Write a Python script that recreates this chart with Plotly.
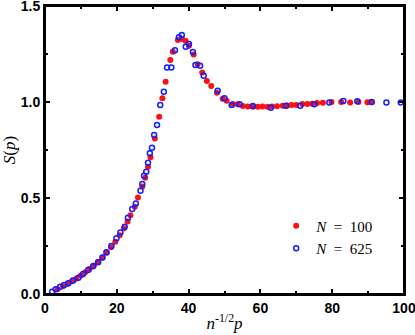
import plotly.graph_objects as go

# N = 100 (red filled)
x_n100 = [3.5, 5.0, 6.3, 7.5, 8.7, 10.0, 11.2, 12.4, 13.6, 14.8, 16.0, 17.2, 18.4, 19.6,
          20.8, 22.0, 23.0, 23.8, 25.0, 25.9, 27.1, 27.9, 28.7, 29.4, 30.6, 31.8, 32.7,
          33.6, 34.9, 35.6, 37.0, 38.2, 39.2, 40.1, 41.4, 42.5, 43.8, 45.1, 46.3, 47.9,
          49.5, 50.6, 52.3, 53.7, 55.1, 56.5, 57.9, 59.3, 60.6, 62.0, 63.2, 64.6, 66.2,
          67.5, 68.7, 70.0, 71.7, 73.1, 74.4, 75.8, 77.4, 79.8, 82.5, 85.0, 87.3, 89.8, 90.9]
s_n100 = [0.025, 0.040, 0.053, 0.066, 0.080, 0.097, 0.113, 0.130, 0.148, 0.167, 0.190, 0.215,
          0.243, 0.272, 0.306, 0.343, 0.378, 0.410, 0.455, 0.503, 0.560, 0.605, 0.663, 0.712,
          0.810, 0.923, 1.019, 1.106, 1.219, 1.262, 1.323, 1.328, 1.318, 1.293, 1.248, 1.196,
          1.153, 1.109, 1.083, 1.048, 1.017, 1.007, 0.990, 0.988, 0.979, 0.976, 0.975, 0.975,
          0.976, 0.975, 0.976, 0.978, 0.980, 0.982, 0.984, 0.985, 0.990, 0.990, 0.991, 0.995,
          0.996, 1.000, 1.000, 0.998, 1.000, 0.999, 0.999]

# N = 625 (blue open)
x_n625 = [2.0, 3.0, 4.2, 5.3, 6.5, 7.8, 9.3, 10.6, 12.0, 13.4, 14.8, 16.0, 17.1, 18.5, 19.9,
          21.0, 22.2, 23.1, 24.3, 25.3, 26.6, 27.1, 27.6, 28.2, 28.7, 29.2, 29.8, 30.4, 31.2,
          32.1, 33.1, 34.0, 35.2, 36.2, 37.3, 38.1, 39.2, 40.1, 41.2, 41.9, 43.2, 44.2, 48.1,
          50.0, 52.0, 54.2, 57.9, 62.9, 67.1, 71.1, 75.0, 79.2, 83.1, 87.0, 91.0, 95.1, 99.1]
s_n625 = [0.012, 0.025, 0.038, 0.047, 0.056, 0.070, 0.085, 0.104, 0.125, 0.145, 0.165, 0.190,
          0.217, 0.250, 0.290, 0.320, 0.350, 0.397, 0.443, 0.472, 0.538, 0.573, 0.616, 0.637,
          0.684, 0.733, 0.762, 0.828, 0.880, 0.984, 1.054, 1.180, 1.180, 1.270, 1.337, 1.349,
          1.288, 1.302, 1.260, 1.193, 1.189, 1.137, 1.059, 1.019, 0.984, 0.988, 0.979, 0.970,
          0.981, 0.981, 0.988, 0.998, 1.005, 1.004, 1.000, 0.998, 0.998]

x_range = [0, 100]
y_range = [0, 1.5]

fig = go.Figure()
fig.add_trace(go.Scatter(
    x=x_n100, y=s_n100, mode="markers", name="<i>N</i>&nbsp;&nbsp;=&nbsp;&nbsp;100",
    marker=dict(symbol="circle", size=6, color="#ff1010", line=dict(width=0)),
))
fig.add_trace(go.Scatter(
    x=x_n625, y=s_n625, mode="markers", name="<i>N</i>&nbsp;&nbsp;=&nbsp;&nbsp;625",
    marker=dict(symbol="circle-open", size=5, color="#1020ff", line=dict(width=1.5)),
))

axis_common = dict(
    showgrid=False, zeroline=False, showline=True, linecolor="#000000", linewidth=2,
    mirror="ticks", ticks="inside", ticklen=5, tickwidth=1.5, tickcolor="#000000",
    automargin=False, ticklabeloverflow="allow",
    tickfont=dict(family="Liberation Sans", size=14, color="black", weight=700),
    minor=dict(ticks="inside", ticklen=3, tickwidth=1.5, tickcolor="black"),
)

fig.update_xaxes(range=x_range, tickmode="linear", tick0=0, dtick=20, minor_dtick=10,
                 title=dict(text="<i>n</i><sup>-1/2</sup><i>p</i>", standoff=2,
                            font=dict(family="Liberation Serif", size=17, color="black")),
                 **axis_common)
fig.update_yaxes(range=y_range, tickmode="linear", tick0=0, dtick=0.5, tickformat=".1f",
                 minor_dtick=0.25,
                 title=dict(text="<i>S</i>(<i>p</i>)", standoff=6,
                            font=dict(family="Liberation Serif", size=17, color="black")),
                 **axis_common)

# frame around the plotting area, in axis coordinates
fig.add_shape(type="rect", xref="x", yref="y",
              x0=x_range[0], x1=x_range[1], y0=y_range[0], y1=y_range[1],
              line=dict(color="black", width=2), layer="above")

fig.update_layout(
    width=415, height=335,
    margin=dict(l=45, r=11, t=6, b=41),
    plot_bgcolor="white", paper_bgcolor="white",
    showlegend=True,
    legend=dict(x=0.644, y=0.293, xanchor="left", yanchor="top",
                bgcolor="rgba(0,0,0,0)", borderwidth=0,
                font=dict(family="Liberation Serif", size=15, color="black"),
                itemwidth=30, tracegroupgap=0),
)

fig.write_html("out.html", config={"displayModeBar": False},
               post_script="document.body.style.margin='0';")
